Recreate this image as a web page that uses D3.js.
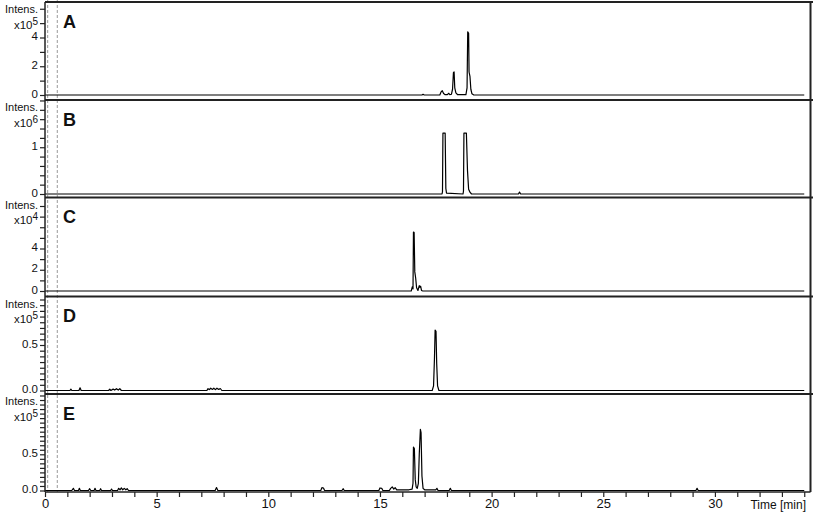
<!DOCTYPE html>
<html>
<head>
<meta charset="utf-8">
<script src="https://cdn.jsdelivr.net/npm/d3@7"></script>
<style>
  body { margin: 0; background: #fff; }
  text { font-family: "Liberation Sans", Arial, sans-serif; fill: #111; }
</style>
</head>
<body>
<div id="canvas" class="canvas"></div>
<script>
// chromatogram traces, time in min, intensity in units of 10^exponent
var panelNames = ['A', 'B', 'C', 'D', 'E'];
var exponents = [5, 6, 4, 5, 5];
var yMax = [6.47, 2.01, 8.8, 1.033, 1.333];
var yLabels = [[0, 2, 4], [0, 1], [0, 2, 4], [0, 0.5], [0, 0.5]];
var yMinor = [1, 0.2, 1, 0.0625, 0.0625];
var yLabelFmt = ['d', 'd', 'd', '.1f', '.1f'];
var xTicks = d3.range(0, 35, 1);
var xLabelled = [0, 5, 10, 15, 20, 25, 30];
var markerTimes = [0.12, 0.55];

var traceA = [[0,0],[16.88,0],[16.93,0.05],[16.98,0],[17.68,0],[17.74,0.22],[17.79,0.3],[17.85,0.1],[17.92,0.02],[18.02,0.03],
  [18.08,0.12],[18.13,0.03],[18.2,0.05],[18.25,0.4],[18.29,1.55],[18.32,1.6],[18.35,0.5],[18.4,0.15],[18.48,0.02],
  [18.85,0.02],[18.9,0.5],[18.93,4.4],[18.97,4.3],[18.99,1.6],[19.03,1.3],[19.07,0.4],[19.12,0.08],[19.2,0],[34,0]];
var traceB = [[0,0],[17.78,0],[17.8,0.05],[17.82,1.3],[17.92,1.3],[17.95,0.12],[17.98,0.02],[18.72,0],[18.74,0.06],
  [18.76,1.3],[18.87,1.3],[18.92,0.5],[18.97,0.1],[19.03,0.04],[19.1,0],[21.2,0],[21.25,0.04],[21.3,0],[34,0]];
var traceC = [[0,0],[16.4,0],[16.45,0.4],[16.48,0.2],[16.5,5.55],[16.53,5.5],[16.56,1.8],[16.6,1.2],[16.64,0.3],
  [16.7,0.05],[16.76,0.5],[16.79,0.35],[16.82,0.45],[16.86,0.05],[16.92,0],[34,0]];
var traceD = [[0,0],[1.12,0],[1.16,0.015],[1.2,0],[1.52,0],[1.57,0.03],[1.62,0],[2.85,0],[2.9,0.015],[2.95,0],
  [3.05,0.015],[3.12,0.005],[3.2,0.02],[3.28,0.005],[3.35,0.02],[3.42,0],[7.25,0],[7.3,0.02],[7.36,0.01],[7.42,0.025],
  [7.5,0.012],[7.56,0.025],[7.63,0.01],[7.7,0.025],[7.78,0.012],[7.85,0.022],[7.92,0],[17.34,0],[17.4,0.05],
  [17.44,0.35],[17.47,0.665],[17.51,0.65],[17.54,0.3],[17.58,0.05],[17.64,0],[34,0]];
var traceE = [[0,0],[1.2,0],[1.27,0.03],[1.32,0],[1.5,0],[1.54,0.03],[1.58,0],[1.95,0],[2.0,0.025],[2.05,0],
  [2.2,0],[2.24,0.03],[2.28,0],[2.45,0],[2.49,0.025],[2.53,0],[2.94,0],[2.98,0.02],[3.02,0],[3.25,0],[3.3,0.03],
  [3.36,0.01],[3.42,0.035],[3.48,0.01],[3.55,0.03],[3.62,0.01],[3.68,0.025],[3.74,0],[7.62,0],[7.68,0.04],[7.74,0],
  [12.35,0],[12.4,0.04],[12.47,0.035],[12.52,0],[13.3,0],[13.35,0.025],[13.4,0],[14.95,0],[15.0,0.035],[15.08,0.03],
  [15.13,0],[15.42,0],[15.48,0.03],[15.55,0.05],[15.62,0.02],[15.68,0.04],[15.75,0.01],[15.9,0.01],[16.3,0.01],
  [16.44,0.02],[16.48,0.1],[16.5,0.6],[16.54,0.58],[16.58,0.15],[16.62,0.05],[16.67,0.03],[16.72,0.1],[16.76,0.5],
  [16.81,0.845],[16.84,0.8],[16.88,0.2],[16.93,0.03],[17.0,0.01],[17.5,0.01],[17.55,0.03],[17.6,0],[18.1,0],
  [18.15,0.03],[18.2,0],[29.15,0],[29.2,0.03],[29.25,0],[34,0]];
var traces = [traceA, traceB, traceC, traceD, traceE];

// layout
var W = 813, H = 515;
var left = 45, right = 810.5, axisY = 492;
var panelTop = [2, 100, 197.5, 296.5, 394];
var panelZero = [95, 194, 291, 390.5, 490.5];

var svg = d3.select('.canvas')
    .append('svg')
    .attr('width', W)
    .attr('height', H);

var x = d3.scaleLinear().domain([0, 34.28]).range([left, right]);

// dashed markers
svg.selectAll('.marker')
    .data(markerTimes)
    .enter()
    .append('line').attr('class', 'marker')
    .attr('x1', d => x(d)).attr('x2', d => x(d))
    .attr('y1', 0).attr('y2', axisY)
    .style('stroke', '#999')
    .style('stroke-width', 1)
    .style('stroke-dasharray', '3,2');

var line = d3.line();

panelNames.forEach(function(name, i) {
    var y = d3.scaleLinear().domain([0, yMax[i]]).range([panelZero[i], panelTop[i]]);
    var g = svg.append('g').attr('class', 'panel');

    var fmt = d3.format(yLabelFmt[i]);
    var ticks = d3.range(0, yMax[i] + 1e-9, yMinor[i]);
    var yAxis = d3.axisLeft(y)
        .tickValues(ticks)
        .tickSize(5)
        .tickPadding(2)
        .tickFormat(function(d) {
            var hit = yLabels[i].some(v => Math.abs(v - d) < 1e-6);
            return hit ? fmt(d) : '';
        });
    var ag = g.append('g').attr('transform', 'translate(' + left + ',0)').call(yAxis);
    ag.select('.domain').remove();
    ag.selectAll('line').style('stroke', '#222').style('stroke-width', 1.2);
    ag.selectAll('text')
        .attr('y', -1.5)
        .style('font-size', '11.5px')
        .style('font-family', '"Liberation Sans", Arial, sans-serif');

    // y labels
    g.append('text')
        .attr('x', 38).attr('y', panelTop[i] + 7.5)
        .attr('dy', '0.35em')
        .attr('text-anchor', 'end')
        .style('font-size', '11px')
        .text('Intens.');
    var ex = g.append('text')
        .attr('x', 38).attr('y', panelTop[i] + 22.5)
        .attr('dy', '0.35em')
        .attr('text-anchor', 'end')
        .style('font-size', '11.5px');
    ex.append('tspan').text('x10');
    ex.append('tspan').attr('dy', '-0.4em').style('font-size', '10px').text(exponents[i]);

    // panel letter
    g.append('text')
        .attr('x', 63).attr('y', panelTop[i] + 19.5)
        .attr('dy', '0.35em')
        .style('font-size', '18px')
        .style('font-weight', 'bold')
        .text(name);

    // trace
    g.append('path')
        .attr('d', line(traces[i].map(p => [x(p[0]), y(p[1])])))
        .style('fill', 'none')
        .style('stroke', '#000')
        .style('stroke-width', 1.2)
        .style('stroke-linejoin', 'round');

    // panel top border
    g.append('line')
        .attr('x1', left).attr('x2', W)
        .attr('y1', panelTop[i]).attr('y2', panelTop[i])
        .style('stroke', '#222')
        .style('stroke-width', 2);
});

// left and right borders
svg.append('line')
    .attr('x1', left).attr('x2', left).attr('y1', panelTop[0]).attr('y2', axisY)
    .style('stroke', '#222').style('stroke-width', 1.5);
svg.append('line')
    .attr('x1', right).attr('x2', right).attr('y1', panelTop[0]).attr('y2', axisY)
    .style('stroke', '#222').style('stroke-width', 2);

// x axis
var xAxis = d3.axisBottom(x)
    .tickValues(xTicks)
    .tickSize(5)
    .tickPadding(2)
    .tickFormat(d => xLabelled.indexOf(d) >= 0 ? d : '');
var xg = svg.append('g').attr('transform', 'translate(0,' + axisY + ')').call(xAxis);
xg.select('.domain').attr('d', 'M' + left + ',0H' + right).style('stroke', '#222').style('stroke-width', 1.5);
xg.selectAll('line').style('stroke', '#222').style('stroke-width', 1.2);
xg.selectAll('text').style('font-size', '13px').style('font-family', '"Liberation Sans", Arial, sans-serif');

svg.append('text')
    .attr('x', 806).attr('y', 505)
    .attr('dy', '0.35em')
    .attr('text-anchor', 'end')
    .style('font-size', '12px')
    .text('Time [min]');
</script>
</body>
</html>
